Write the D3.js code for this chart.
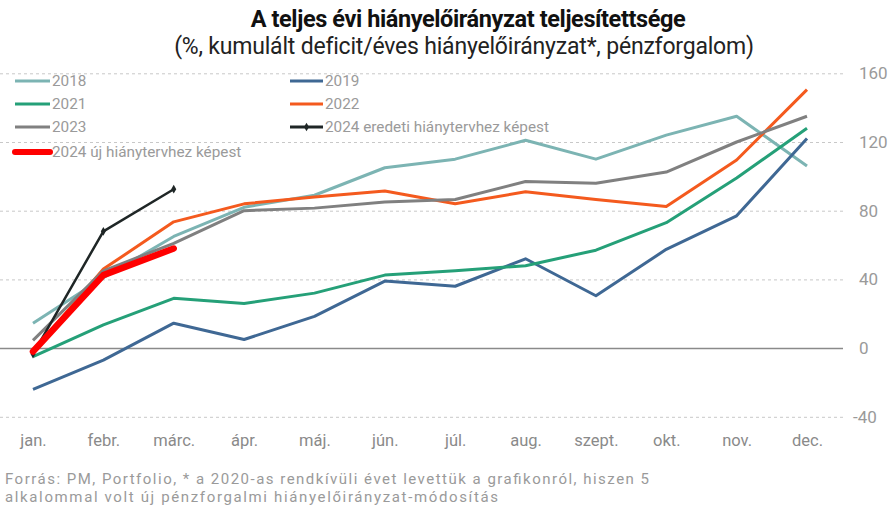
<!DOCTYPE html>
<html><head><meta charset="utf-8">
<script src="https://cdn.jsdelivr.net/npm/d3@7"></script>
<style>body{margin:0;background:#fff}svg{display:block}text{font-family:Roboto,"Noto Sans",sans-serif}</style>
</head><body>
<svg id="c" width="892" height="515"></svg>
<script>
const months = ["jan.","febr.","márc.","ápr.","máj.","jún.","júl.","aug.","szept.","okt.","nov.","dec."];
const yTicks = [-40,0,40,80,120,160];
const s2018 = [14.5,41,65,82,89,105,110,121,110,124,135,106];
const s2019 = [-24,-7,14.5,5,18.5,39,36,52,30.5,57.5,77,122];
const s2021 = [-5,13.5,29,26,32,42.5,45,48,57,73,99,128];
const s2022 = [-2,46,73.5,84,88,91.5,84,91,86.5,82.5,109.5,150.5];
const s2023 = [4.5,45,61,80,81.5,85,86.5,97,96,102.5,120,135];
const s2024orig = [-3.5,68,92.5];
const s2024new = [-2,42.5,58];
const series = [
  {name:"2018", values:s2018, color:"#7cb4b3", w:3},
  {name:"2019", values:s2019, color:"#3f6894", w:3},
  {name:"2021", values:s2021, color:"#25a078", w:3},
  {name:"2022", values:s2022, color:"#f45a1e", w:3},
  {name:"2023", values:s2023, color:"#808080", w:3},
  {name:"2024 eredeti hiánytervhez képest", values:s2024orig, color:"#1f2626", w:2.5, marker:true},
  {name:"2024 új hiánytervhez képest", values:s2024new, color:"#ff0000", w:6.5}
];
const svg = d3.select("#c");
const x = d3.scalePoint().domain(months).range([33,807]);
const y = d3.scaleLinear().domain([-40,160]).range([416.8,73.3]);

// title
svg.append("text").attr("x",468).attr("y",27).attr("text-anchor","middle")
  .attr("font-size",23.5).attr("font-weight","bold").attr("fill","#111").attr("letter-spacing","-0.4")
  .text("A teljes évi hiányelőirányzat teljesítettsége");
svg.append("text").attr("x",464).attr("y",54).attr("text-anchor","middle")
  .attr("font-size",23).attr("fill","#222").attr("letter-spacing","-0.2")
  .text("(%, kumulált deficit/éves hiányelőirányzat*, pénzforgalom)");

// grid
const yAxis = d3.axisRight(y).tickValues(yTicks).tickSize(843).tickPadding(15).tickFormat(d=>String(d));
const gy = svg.append("g").call(yAxis);
gy.select(".domain").remove();
gy.selectAll(".tick line").attr("stroke",d=>d===0?"#8a8a8a":"#c8c8c8")
  .attr("stroke-width",d=>d===0?1.5:1).attr("stroke-dasharray",d=>d===0?null:"3,3");
gy.selectAll(".tick text").attr("font-size",17).attr("fill","#9a9a9a").attr("x",d=>d<0?853:859).attr("text-anchor","start");

// x axis labels
const xAxis = d3.axisBottom(x).tickSize(0).tickPadding(0);
const gx = svg.append("g").attr("transform","translate(0,434)").call(xAxis);
gx.select(".domain").remove();
gx.selectAll(".tick text").attr("font-size",16.5).attr("fill","#8a8a8a").attr("dy","0.71em");

// lines
const line = d3.line().x((d,i)=>x(months[i])).y(d=>y(d));
series.forEach(s=>{
  svg.append("path").datum(s.values).attr("d",line).attr("fill","none")
    .attr("stroke",s.color).attr("stroke-width",s.w)
    .attr("stroke-linejoin","round").attr("stroke-linecap",s.w>5?"round":"butt");
  if(s.marker){
    svg.selectAll(null).data(s.values).enter().append("path")
      .attr("transform",(d,i)=>`translate(${x(months[i])},${y(d)})`)
      .attr("d",d3.symbol(d3.symbolDiamond,22)).attr("fill",s.color);
  }
});

// legend
const legPos = [[15,81],[290,81],[15,104],[290,104],[15,127],[290,127],[15,152]];
series.forEach((s,i)=>{
  const [lx,ly]=legPos[i];
  const len = i%2===0 ? 35 : 33;
  svg.append("line").attr("x1",lx).attr("x2",lx+len).attr("y1",ly).attr("y2",ly)
    .attr("stroke",s.color).attr("stroke-width",s.w>5?6:3).attr("stroke-linecap",s.w>5?"round":"butt");
  if(s.marker){
    svg.append("path").attr("transform",`translate(${lx+len/2},${ly})`)
      .attr("d",d3.symbol(d3.symbolDiamond,22)).attr("fill",s.color);
  }
  svg.append("text").attr("x",lx+len+2).attr("y",ly).attr("dy","0.35em")
    .attr("font-size",15.3).attr("fill","#9a9a9a").text(s.name);
});

// footer
svg.append("text").attr("x",5).attr("y",484).attr("font-size",15).attr("fill","#9a9a9a")
  .attr("textLength",644).attr("lengthAdjust","spacing")
  .text("Forrás: PM, Portfolio, * a 2020-as rendkívüli évet levettük a grafikonról, hiszen 5");
svg.append("text").attr("x",5).attr("y",502).attr("font-size",15).attr("fill","#9a9a9a")
  .attr("textLength",493).attr("lengthAdjust","spacing")
  .text("alkalommal volt új pénzforgalmi hiányelőirányzat-módosítás");
</script>
</body></html>
